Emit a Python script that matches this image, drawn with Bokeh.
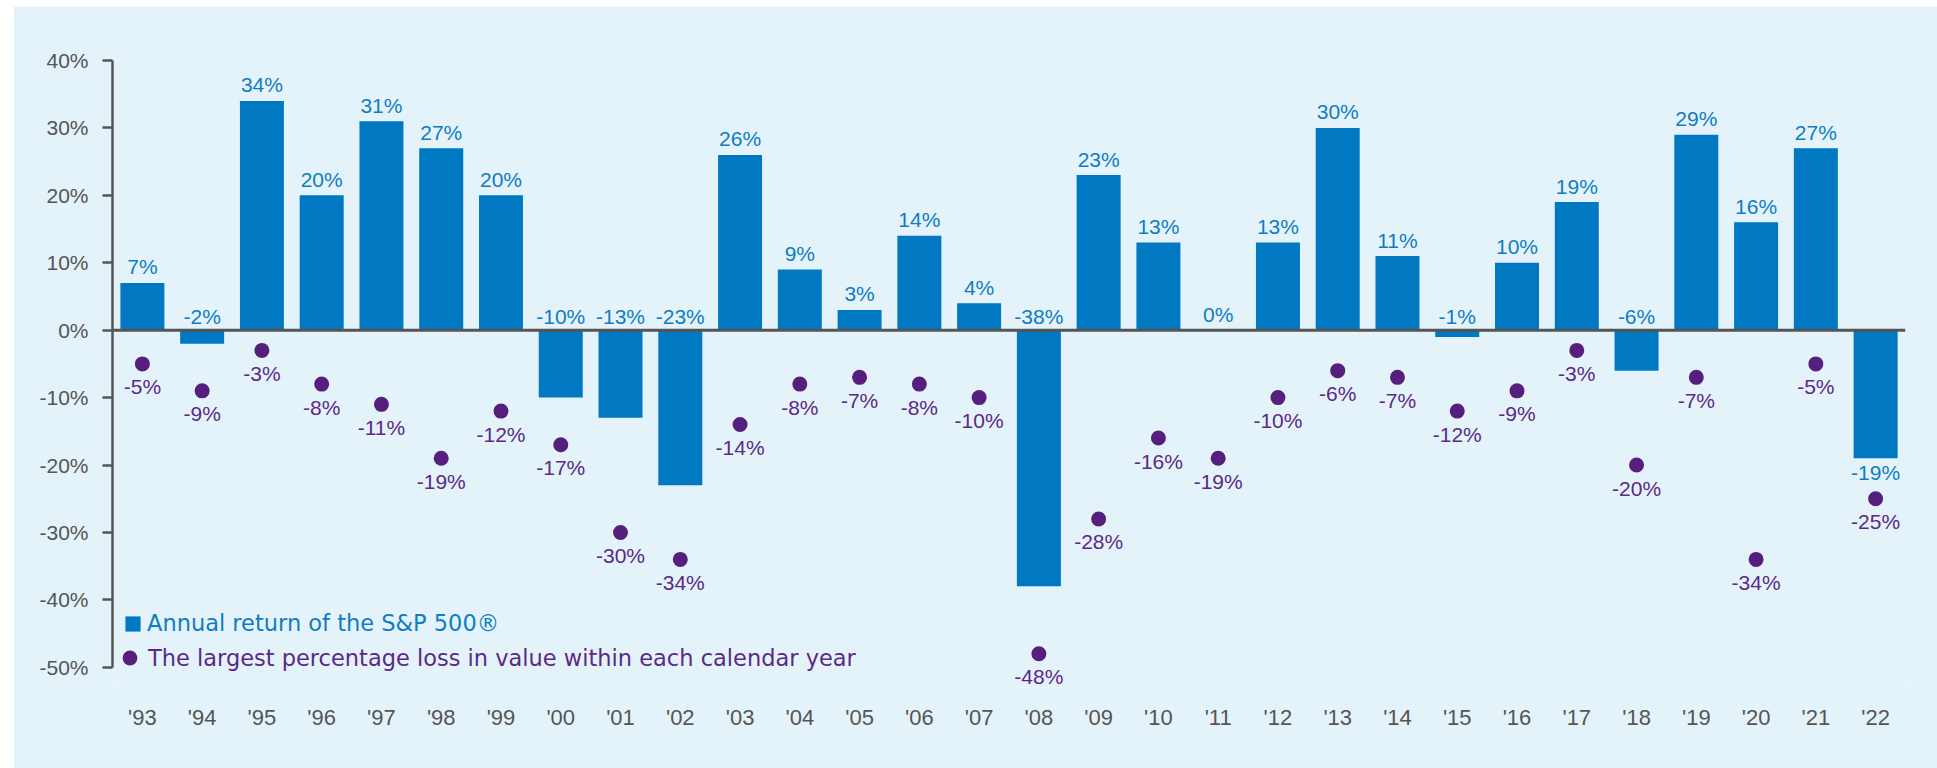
from bokeh.plotting import figure
from bokeh.models import (ColumnDataSource, FactorRange, Range1d, FixedTicker,
                          PrintfTickFormatter, Span, Legend, LegendItem, Spacer)
from bokeh.layouts import column, row
from bokeh.core.properties import value
from bokeh.embed import file_html
from bokeh.resources import INLINE

# ---- data ----
years = ["'93", "'94", "'95", "'96", "'97", "'98", "'99", "'00", "'01", "'02",
         "'03", "'04", "'05", "'06", "'07", "'08", "'09", "'10", "'11", "'12",
         "'13", "'14", "'15", "'16", "'17", "'18", "'19", "'20", "'21", "'22"]
annual_return = [7, -2, 34, 20, 31, 27, 20, -10, -13, -23,
                 26, 9, 3, 14, 4, -38, 23, 13, 0, 13,
                 30, 11, -1, 10, 19, -6, 29, 16, 27, -19]
intra_year_loss = [-5, -9, -3, -8, -11, -19, -12, -17, -30, -34,
                   -14, -8, -7, -8, -10, -48, -28, -16, -19, -10,
                   -6, -7, -12, -9, -3, -20, -7, -34, -5, -25]
y_ticks = [-50, -40, -30, -20, -10, 0, 10, 20, 30, 40]
legend_bar = "Annual return of the S&P 500\u00ae"
legend_dot = "The largest percentage loss in value within each calendar year"

# ---- styles ----
BG = "#e4f3fa"
BAR = "#0079c2"
BAR_TXT = "#0f7dc2"
DOT = "#561f7e"
DOT_TXT = "#5b2a86"
AX = "#555555"
FONT = "Liberation Sans"
LEG_FONT = "DejaVu Sans"

# label anchors derived from values
last = len(years) - 1
bar_lab_y = []
bar_lab_off = []
for i, v in enumerate(annual_return):
    if v >= 0:
        bar_lab_y.append(v); bar_lab_off.append(-16)
    elif i == last:
        bar_lab_y.append(v); bar_lab_off.append(14)
    else:
        bar_lab_y.append(0); bar_lab_off.append(-14)

src = ColumnDataSource(dict(
    x=years, ret=annual_return, loss=intra_year_loss,
    ret_txt=[f"{v}%" for v in annual_return],
    loss_txt=[f"{v}%" for v in intra_year_loss],
    ret_ly=bar_lab_y, ret_off=bar_lab_off,
))

p = figure(width=1924, height=762, output_backend="svg", toolbar_location=None,
           x_range=FactorRange(*years, range_padding=0),
           y_range=Range1d(-53, 40),
           min_border_left=99, min_border_right=32,
           min_border_top=54, min_border_bottom=81)
p.background_fill_color = BG
p.border_fill_color = BG
p.outline_line_color = None
p.grid.visible = False

bars = p.vbar(x="x", top="ret", bottom=0, width=0.736, source=src,
              fill_color=BAR, line_color=None)
dots = p.scatter(x="x", y="loss", size=15, source=src,
                 fill_color=DOT, line_color=None)

p.text(x="x", y="ret_ly", text="ret_txt", y_offset="ret_off", source=src,
       text_align="center", text_baseline="middle",
       text_font=value(FONT), text_font_size="21px", text_color=BAR_TXT)
p.text(x="x", y="loss", text="loss_txt", y_offset=23, source=src,
       text_align="center", text_baseline="middle",
       text_font=value(FONT), text_font_size="21px", text_color=DOT_TXT)

p.add_layout(Span(location=0, dimension="width", line_color=AX, line_width=3))

# axes
ya = p.yaxis[0]
ya.bounds = (y_ticks[0], y_ticks[-1])
ya.ticker = FixedTicker(ticks=y_ticks)
ya.formatter = PrintfTickFormatter(format="%d%%")
ya.axis_line_color = AX
ya.axis_line_width = 2.5
ya.major_tick_line_color = AX
ya.major_tick_line_width = 2.5
ya.major_tick_out = 10
ya.major_tick_in = 0
ya.minor_tick_line_color = None
ya.major_label_standoff = 14
ya.major_label_text_font = FONT
ya.major_label_text_font_size = "21px"
ya.major_label_text_color = AX

xa = p.xaxis[0]
xa.axis_line_color = None
xa.major_tick_line_color = None
xa.minor_tick_line_color = None
xa.major_label_standoff = 11
xa.major_label_text_font = FONT
xa.major_label_text_font_size = "22px"
xa.major_label_text_color = AX

# legends
common = dict(padding=0, margin=0, spacing=0, border_line_color=None,
              background_fill_alpha=0, label_text_font=LEG_FONT,
              label_text_font_size="22.5px")
leg1 = Legend(items=[LegendItem(label=legend_bar, renderers=[bars])],
              location=(11, 51), glyph_width=19, glyph_height=19,
              label_height=19, label_standoff=5, label_text_color=BAR_TXT, **common)
leg2 = Legend(items=[LegendItem(label=legend_dot, renderers=[dots])],
              location=(-1, 11), glyph_width=37, glyph_height=37,
              label_height=37, label_standoff=0, label_text_color=DOT_TXT, **common)
p.add_layout(leg1, "center")
p.add_layout(leg2, "center")

layout = column(Spacer(width=1937, height=6),
                row(Spacer(width=13, height=762), p, spacing=0),
                spacing=0)

open("out.html", "w").write(file_html(layout, INLINE))
